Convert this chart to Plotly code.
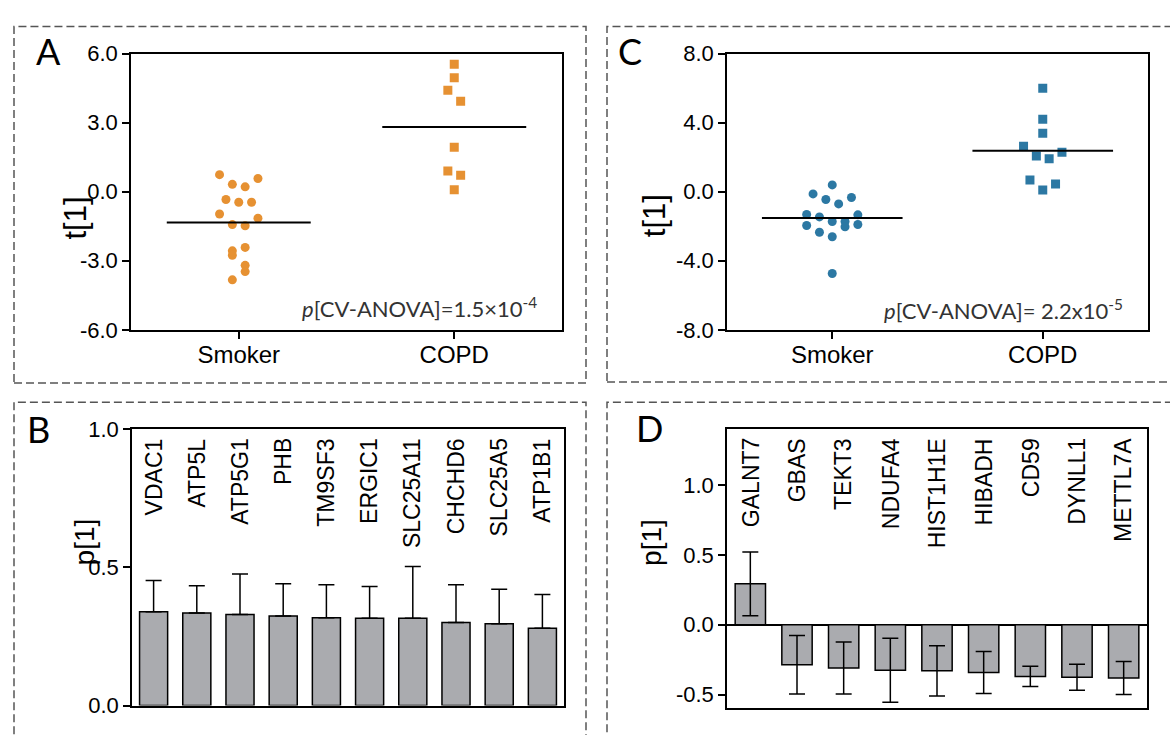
import plotly.graph_objects as go

W, H = 1170, 735

# ---- data -------------------------------------------------------------
groups = ["Smoker", "COPD"]

# Panel A: t[1] scores and swarm slot per sample
a_smoker_t = [0.74, 0.32, 0.21, 0.57, -0.34, -0.46, -0.46, -0.97, -1.15, -1.43,
              -1.48, -2.42, -2.57, -2.76, -3.20, -3.47, -3.83]
a_smoker_slot = [-3, -1, 1, 3, -2, 0, 2, -3, 3, -1, 1, 1, -1, -1, 1, 1, -1]
a_copd_t = [5.53, 4.95, 4.41, 3.93, 1.93, 0.90, 0.71, 0.08]
a_copd_slot = [0, 0, -1, 1, 0, -1, 1, 0]

# Panel C: t[1] scores and swarm slot per sample
c_smoker_t = [0.39, -0.13, -0.45, -0.71, -0.34, -1.32, -1.46, -1.34, -1.73, -1.73,
              -1.96, -2.03, -1.90, -2.35, -2.61, -4.74]
c_smoker_slot = [0, -3, -1, 1, 3, -4, -2, 4, 0, 2, -4, 2, 4, -2, 0, 0]
c_copd_t = [5.99, 4.20, 3.38, 2.63, 2.07, 1.90, 2.29, 0.67, 0.45, 0.09]
c_copd_slot = [0, 0, 0, -3, -1, 1, 3, -2, 2, 0]

# Panel B: loadings p[1] with error
b_genes = ["VDAC1", "ATP5L", "ATP5G1", "PHB", "TM9SF3", "ERGIC1",
           "SLC25A11", "CHCHD6", "SLC25A5", "ATP1B1"]
b_p = [0.340, 0.335, 0.330, 0.324, 0.318, 0.316, 0.316, 0.301, 0.296, 0.280]
b_err = [0.113, 0.099, 0.146, 0.117, 0.119, 0.115, 0.187, 0.136, 0.125, 0.122]

# Panel D: loadings p[1] with error
d_genes = ["GALNT7", "GBAS", "TEKT3", "NDUFA4", "HIST1H1E", "HIBADH",
           "CD59", "DYNLL1", "METTL7A"]
d_p = [0.293, -0.287, -0.310, -0.326, -0.330, -0.342, -0.370, -0.376, -0.381]
d_err = [0.228, 0.210, 0.187, 0.230, 0.180, 0.150, 0.072, 0.093, 0.118]

a_yticks = [-6, -3, 0, 3, 6]
c_yticks = [-8, -4, 0, 4, 8]
b_yticks = [0, 0.5, 1.0]
d_yticks = [-0.5, 0, 0.5, 1.0]

pval_a = "<i>p</i>[CV-ANOVA]=1.5×10<sup>-4</sup>"
pval_c = "<i>p</i>[CV-ANOVA]= 2.2x10<sup>-5</sup>"

# ---- styling ----------------------------------------------------------
ORANGE = "#E69132"
BLUE = "#2C78A3"
BAR_GRAY = "#AAABAF"
SANS = "Liberation Sans"
TICK_FONT = dict(family=SANS, size=22, color="black")
XCAT_FONT = dict(family=SANS, size=24, color="black")
T_TITLE_FONT = dict(family=SANS, size=31, color="black")
P_TITLE_FONT = dict(family=SANS, size=28, color="black")
GENE_FONT = dict(family=SANS, size=23, color="black")
LETTER_FONT = dict(family="Lato", size=36, color="black")
PVAL_FONT = dict(family="Lato", size=22, color="#333333")


def fx(px):
    return px / W


def fy(py):
    return 1 - py / H


# plot boxes in pixels: (left, right, top, bottom)
boxes = {
    "A": (131, 562, 43, 329),
    "C": (727, 1148, 43, 329),
    "B": (132, 564, 432, 718),
    "D": (727, 1147, 432, 721),
}

fig = go.Figure()


def swarm(values, slots, center, box, color, symbol, xa, ya):
    left, right = box[0], box[1]
    px_per_unit = (right - left) / 2.0
    step = 6.4 / px_per_unit
    xs = [center + s * step for s in slots]
    fig.add_trace(go.Scatter(
        x=xs, y=values, mode="markers", xaxis=xa, yaxis=ya,
        marker=dict(color=color, size=9, symbol=symbol, line=dict(width=0)),
        showlegend=False, hoverinfo="y"))
    mean = sum(values) / len(values)
    fig.add_trace(go.Scatter(
        x=[center - 0.334, center + 0.334], y=[mean, mean], mode="lines",
        xaxis=xa, yaxis=ya, line=dict(color="black", width=2),
        showlegend=False, hoverinfo="skip"))


swarm(a_smoker_t, a_smoker_slot, 0, boxes["A"], ORANGE, "circle", "x", "y")
swarm(a_copd_t, a_copd_slot, 1, boxes["A"], ORANGE, "square", "x", "y")
swarm(c_smoker_t, c_smoker_slot, 0, boxes["C"], BLUE, "circle", "x2", "y2")
swarm(c_copd_t, c_copd_slot, 1, boxes["C"], BLUE, "square", "x2", "y2")

fig.add_trace(go.Bar(
    x=list(range(len(b_genes))), y=b_p, xaxis="x3", yaxis="y3",
    marker=dict(color=BAR_GRAY, line=dict(color="black", width=1.5)),
    error_y=dict(type="data", array=b_err, arrayminus=[0] * len(b_err),
                 color="black", thickness=1.5, width=8),
    showlegend=False))

fig.add_trace(go.Bar(
    x=list(range(len(d_genes))), y=d_p, xaxis="x4", yaxis="y4",
    marker=dict(color=BAR_GRAY, line=dict(color="black", width=1.5)),
    error_y=dict(type="data", array=d_err, color="black", thickness=1.5, width=8),
    showlegend=False))


def axis_common():
    return dict(showline=True, mirror=True, linecolor="black", linewidth=1.5,
                showgrid=False, zeroline=False, ticks="outside", ticklen=7,
                tickwidth=1.5, tickcolor="black", tickfont=TICK_FONT, fixedrange=True)


def dom_x(box):
    return [fx(box[0]), fx(box[1])]


def dom_y(box):
    return [fy(box[3]), fy(box[2])]


def ticktext(vals):
    return [f"{v:.1f}" for v in vals]


layout = dict(
    width=W, height=H, margin=dict(l=0, r=0, t=0, b=0),
    paper_bgcolor="white", plot_bgcolor="white", showlegend=False,
    bargap=0.35,
)

# A
layout["xaxis"] = dict(axis_common(), domain=dom_x(boxes["A"]), anchor="y",
                       range=[-0.5, 1.5], tickvals=[0, 1], ticktext=groups,
                       tickfont=XCAT_FONT, ticklabelstandoff=-4)
layout["yaxis"] = dict(axis_common(), domain=dom_y(boxes["A"]), anchor="x",
                       range=[-6, 6], tickvals=a_yticks, ticktext=ticktext(a_yticks))
# C
layout["xaxis2"] = dict(axis_common(), domain=dom_x(boxes["C"]), anchor="y2",
                        range=[-0.5, 1.5], tickvals=[0, 1], ticktext=groups,
                        tickfont=XCAT_FONT, ticklabelstandoff=-4)
layout["yaxis2"] = dict(axis_common(), domain=dom_y(boxes["C"]), anchor="x2",
                        range=[-8, 8], tickvals=c_yticks, ticktext=ticktext(c_yticks))
# B
layout["xaxis3"] = dict(axis_common(), domain=dom_x(boxes["B"]), anchor="y3",
                        range=[-0.5, len(b_genes) - 0.5], ticks="", showticklabels=False)
layout["yaxis3"] = dict(axis_common(), domain=dom_y(boxes["B"]), anchor="x3",
                        range=[0, 1.0], tickvals=b_yticks, ticktext=ticktext(b_yticks))
# D
layout["xaxis4"] = dict(axis_common(), domain=dom_x(boxes["D"]), anchor="y4",
                        range=[-0.5, len(d_genes) - 0.5], ticks="", showticklabels=False)
layout["yaxis4"] = dict(axis_common(), domain=dom_y(boxes["D"]), anchor="x4",
                        range=[-0.6, 1.4], tickvals=d_yticks, ticktext=ticktext(d_yticks),
                        zeroline=True, zerolinecolor="black", zerolinewidth=1.5)

fig.update_layout(**layout)

annotations = []

# panel letters
for letter, (lx, ly) in {"A": (35, 17), "C": (617, 17), "B": (26, 408), "D": (635, 407)}.items():
    annotations.append(dict(text=letter, x=fx(lx), y=fy(ly), xref="paper", yref="paper",
                            xanchor="left", yanchor="top", showarrow=False,
                            font=LETTER_FONT, borderpad=0))

# y-axis titles
for txt, (tx, ty), fnt in [("t[1]", (56, 189), T_TITLE_FONT), ("p[1]", (67, 575), P_TITLE_FONT),
                           ("t[1]", (654, 187), T_TITLE_FONT), ("p[1]", (652, 576), P_TITLE_FONT)]:
    annotations.append(dict(text=txt, x=fx(tx), y=fy(ty), xref="paper", yref="paper",
                            textangle=-90, showarrow=False, font=fnt))

# p-values
annotations.append(dict(text=pval_a, x=fx(539), y=fy(306), xref="paper", yref="paper",
                        xanchor="right", yanchor="middle", showarrow=False, font=PVAL_FONT))
annotations.append(dict(text=pval_c, x=fx(1125), y=fy(308), xref="paper", yref="paper",
                        xanchor="right", yanchor="middle", showarrow=False, font=PVAL_FONT))

# gene names along the top of the bar panels
for i, g in enumerate(b_genes):
    annotations.append(dict(text=g, x=i, y=1, xref="x3", yref="y3 domain",
                            xanchor="center", yanchor="top", yshift=-8, textangle=-90,
                            showarrow=False, font=GENE_FONT, borderpad=0))
for i, g in enumerate(d_genes):
    annotations.append(dict(text=g, x=i, y=1, xref="x4", yref="y4 domain",
                            xanchor="center", yanchor="top", yshift=-8, textangle=-90,
                            showarrow=False, font=GENE_FONT, borderpad=0))

fig.update_layout(annotations=annotations)

# dashed panel frames
frames = [(14, 586, 15, 384), (607, 1180, 15, 383), (14, 586, 404, 760), (607, 1180, 404, 760)]
shapes = []
for x0, x1, y0, y1 in frames:
    shapes.append(dict(type="rect", xref="paper", yref="paper",
                       x0=fx(x0), x1=fx(x1), y0=fy(y1), y1=fy(y0),
                       line=dict(color="#555555", width=1.5, dash="8px,4px"),
                       fillcolor="rgba(0,0,0,0)", layer="above"))
fig.update_layout(shapes=shapes)

fig.write_html("out.html")
